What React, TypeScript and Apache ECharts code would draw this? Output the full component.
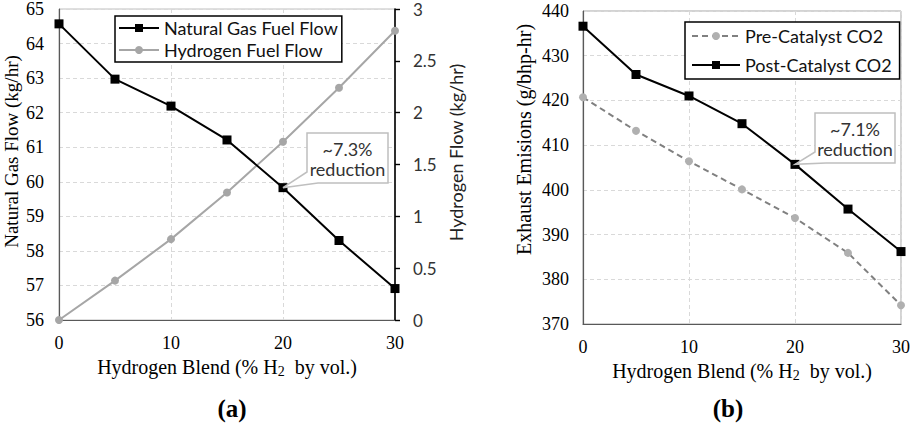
import React, { useEffect, useRef } from "react";
import * as echarts from "echarts";

const blend = [0, 5, 10, 15, 20, 25, 30];
const naturalGasFlow = [64.57, 62.97, 62.19, 61.21, 59.83, 58.3, 56.91];
const hydrogenFlow = [0, 0.38, 0.78, 1.23, 1.72, 2.24, 2.79];
const preCatalystCO2 = [420.7, 413.2, 406.4, 400.1, 393.7, 385.9, 374.2];
const postCatalystCO2 = [436.6, 425.8, 421.0, 414.8, 405.7, 395.7, 386.2];

const leftYTicks = { min: 56, max: 65, interval: 1 };
const rightYTicks = { min: 0, max: 3, interval: 0.5 };
const co2YTicks = { min: 370, max: 440, interval: 10 };
const xTicks = { min: 0, max: 30, interval: 10 };

const SERIF = "Liberation Serif";
const SANS = "Lato";

const pairs = (ys: number[]) => blend.map((x, i) => [x, ys[i]]);

const gridDash = { type: [4, 3], color: "#d9d9d9", width: 1 };

const xName = "{t|Hydrogen Blend (% H}{s|2}{t|  by vol.)}";
const xNameStyle = {
  fontFamily: SERIF,
  fontSize: 20,
  color: "#000",
  rich: {
    t: { fontFamily: SERIF, fontSize: 20, lineHeight: 24, color: "#000" },
    s: { fontFamily: SERIF, fontSize: 14, lineHeight: 12, verticalAlign: "bottom", color: "#000" },
  },
};

function makeX(gridIndex: number) {
  return {
    type: "value",
    gridIndex,
    ...xTicks,
    name: xName,
    nameLocation: "middle",
    nameGap: 31,
    nameTextStyle: xNameStyle,
    axisLine: { show: true, lineStyle: { color: "#595959", width: 1.2 } },
    axisTick: { show: false },
    axisLabel: { fontFamily: SERIF, fontSize: 18, color: "#000", margin: 14 },
    splitLine: { show: true, lineStyle: gridDash },
  };
}

export default function App() {
  const ref = useRef<HTMLDivElement>(null);
  useEffect(() => {
    if (!ref.current) return;
    const chart = echarts.init(ref.current, null, { renderer: "svg" });
    chart.setOption({
      animation: false,
      backgroundColor: "#fff",
      grid: [
        { left: 59, top: 7, width: 336, height: 313, show: true, borderColor: "#bfbfbf", borderWidth: 1 },
        { left: 583, top: 11, width: 319, height: 313, show: true, borderColor: "#a6a6a6", borderWidth: 1 },
      ],
      xAxis: [makeX(0), makeX(1)],
      yAxis: [
        {
          type: "value",
          gridIndex: 0,
          ...leftYTicks,
          name: "Natural Gas Flow (kg/hr)",
          nameLocation: "middle",
          nameRotate: 90,
          nameGap: 38,
          nameTextStyle: { fontFamily: SERIF, fontSize: 19, color: "#000", padding: [0, 0, 0, 26] },
          axisLine: { show: true, lineStyle: { color: "#595959", width: 1.2 } },
          axisTick: { show: false },
          axisLabel: { fontFamily: SERIF, fontSize: 18, color: "#000", margin: 15 },
          splitLine: { show: true, lineStyle: gridDash },
        },
        {
          type: "value",
          gridIndex: 0,
          position: "right",
          ...rightYTicks,
          name: "Hydrogen Flow (kg/hr)",
          nameLocation: "middle",
          nameRotate: 90,
          nameGap: 52,
          nameTextStyle: { fontFamily: SANS, fontSize: 18, color: "#222", padding: [0, 0, 0, 24] },
          axisLine: { show: true, lineStyle: { color: "#000", width: 1.6 } },
          axisTick: { show: true, inside: false, length: 5, lineStyle: { color: "#000", width: 1.4 } },
          axisLabel: { fontFamily: SANS, fontSize: 17, color: "#333", margin: 18 },
          splitLine: { show: false },
        },
        {
          type: "value",
          gridIndex: 1,
          ...co2YTicks,
          name: "Exhaust Emisions (g/bhp-hr)",
          nameLocation: "middle",
          nameRotate: 90,
          nameGap: 49,
          nameTextStyle: { fontFamily: SERIF, fontSize: 20, color: "#000", padding: [0, 0, 0, 56] },
          axisLine: { show: true, lineStyle: { color: "#595959", width: 1.2 } },
          axisTick: { show: false },
          axisLabel: { fontFamily: SERIF, fontSize: 18, color: "#000", margin: 14 },
          splitLine: { show: true, lineStyle: gridDash },
        },
      ],
      legend: [
        {
          data: ["Natural Gas Fuel Flow", "Hydrogen Fuel Flow"],
          left: 115,
          top: 16,
          orient: "vertical",
          itemWidth: 40,
          itemHeight: 10,
          itemGap: 2,
          padding: [2, 4, 2, 3],
          borderColor: "#000",
          borderWidth: 1.5,
          borderRadius: 0,
          backgroundColor: "#fff",
          textStyle: { fontFamily: SANS, fontSize: 18, color: "#111", lineHeight: 20 },
        },
        {
          data: ["Pre-Catalyst CO2", "Post-Catalyst CO2"],
          left: 685,
          top: 22,
          orient: "vertical",
          itemWidth: 48,
          itemHeight: 10,
          itemGap: 7,
          padding: [3, 8, 3, 6],
          borderColor: "#000",
          borderWidth: 1.5,
          borderRadius: 0,
          backgroundColor: "#fff",
          textStyle: { fontFamily: SANS, fontSize: 18, color: "#111", lineHeight: 22 },
        },
      ],
      series: [
        {
          name: "Natural Gas Fuel Flow",
          type: "line",
          xAxisIndex: 0,
          yAxisIndex: 0,
          data: pairs(naturalGasFlow),
          symbol: "rect",
          symbolSize: 9,
          lineStyle: { color: "#000", width: 2 },
          itemStyle: { color: "#000" },
          z: 3,
        },
        {
          name: "Hydrogen Fuel Flow",
          type: "line",
          xAxisIndex: 0,
          yAxisIndex: 1,
          data: pairs(hydrogenFlow),
          symbol: "circle",
          symbolSize: 8,
          lineStyle: { color: "#a6a6a6", width: 2 },
          itemStyle: { color: "#a6a6a6" },
          z: 2,
        },
        {
          name: "Pre-Catalyst CO2",
          type: "line",
          xAxisIndex: 1,
          yAxisIndex: 2,
          data: pairs(preCatalystCO2),
          symbol: "circle",
          symbolSize: 8,
          lineStyle: { color: "#808080", width: 2, type: [6, 4] },
          itemStyle: { color: "#b0b0b0" },
          z: 2,
        },
        {
          name: "Post-Catalyst CO2",
          type: "line",
          xAxisIndex: 1,
          yAxisIndex: 2,
          data: pairs(postCatalystCO2),
          symbol: "rect",
          symbolSize: 9,
          lineStyle: { color: "#000", width: 2 },
          itemStyle: { color: "#000" },
          z: 3,
        },
      ],
    });

    const p1 = chart.convertToPixel({ xAxisIndex: 0, yAxisIndex: 0 }, [blend[4], naturalGasFlow[4]]) as number[];
    const p2 = chart.convertToPixel({ xAxisIndex: 1, yAxisIndex: 2 }, [blend[4], postCatalystCO2[4]]) as number[];

    const callout = (bx: number, by: number, bw: number, bh: number, tip: number[], l1: string, l2: string) => [
      {
        type: "polygon",
        z: 100,
        shape: {
          points: [
            [bx, by],
            [bx + bw, by],
            [bx + bw, by + bh],
            [bx + 11, by + bh],
            [tip[0], tip[1]],
            [bx, by + bh - 11],
          ],
        },
        style: { fill: "#fff", stroke: "#bfbfbf", lineWidth: 1.5 },
      },
      {
        type: "text",
        z: 101,
        x: bx + bw / 2,
        y: by + bh * 0.31,
        style: { text: l1, fontFamily: SANS, fontSize: 18, fill: "#333", align: "center", verticalAlign: "middle" },
      },
      {
        type: "text",
        z: 101,
        x: bx + bw / 2,
        y: by + bh * 0.72,
        style: { text: l2, fontFamily: SANS, fontSize: 18, fill: "#333", align: "center", verticalAlign: "middle" },
      },
    ];

    chart.setOption({
      graphic: [
        ...callout(307, 133, 81, 50, p1, "~7.3%", "reduction"),
        ...callout(815, 113, 80, 50, p2, "~7.1%", "reduction"),
        {
          type: "text",
          x: 232,
          y: 408,
          style: { text: "(a)", fontFamily: SERIF, fontSize: 25, fontWeight: "bold", fill: "#000", align: "center", verticalAlign: "middle" },
        },
        {
          type: "text",
          x: 728,
          y: 408,
          style: { text: "(b)", fontFamily: SERIF, fontSize: 25, fontWeight: "bold", fill: "#000", align: "center", verticalAlign: "middle" },
        },
      ],
    });

    return () => chart.dispose();
  }, []);
  return <div ref={ref} style={{ position: "absolute", left: 0, top: 0, width: 913, height: 426 }} />;
}
